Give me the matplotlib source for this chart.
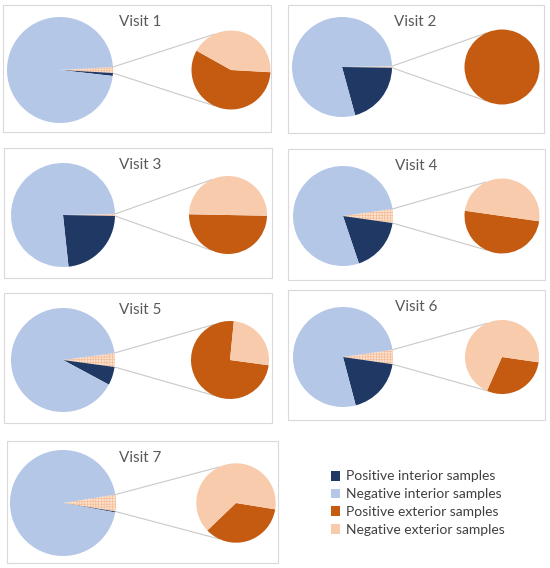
import numpy as np
import matplotlib
matplotlib.use("Agg")
import matplotlib.pyplot as plt
from matplotlib.patches import Rectangle, Patch

plt.rcParams["font.family"] = ["Lato", "DejaVu Sans"]
plt.rcParams["hatch.linewidth"] = 0.5
plt.rcParams["hatch.color"] = "#F5BC95"

# ---- data (percent of all samples per visit) ----
visits = ["Visit 1", "Visit 2", "Visit 3", "Visit 4", "Visit 5", "Visit 6", "Visit 7"]
pos_interior = [0.9, 20.5, 23.0, 17.6, 5.7, 18.6, 0.3]
neg_interior = [97.3, 79.0, 76.4, 77.9, 90.0, 76.8, 94.6]
pos_exterior = [1.03, 0.5, 0.3, 2.25, 3.2, 1.35, 1.8]
neg_exterior = [0.77, 0.0, 0.3, 2.25, 1.1, 3.25, 3.3]

legend_labels = ["Positive interior samples", "Negative interior samples",
                 "Positive exterior samples", "Negative exterior samples"]

C_POS_INT = "#1F3864"
C_NEG_INT = "#B4C7E7"
C_POS_EXT = "#C55A11"
C_NEG_EXT = "#F8CBAD"

W, H = 550, 568

# panel layout in pixels (top-left origin):
# box (x0, y0, x1, y1), main centre, main radius, secondary centre x, secondary radius, title x
LAYOUT = [
    ((3, 5, 271, 132), (60, 70), 53, 231, 39.5, 140),
    ((288, 5, 544, 133), (342, 67), 50, 502, 37.5, 415),
    ((4, 148, 272, 278), (63, 215), 52, 228, 39, 140),
    ((288, 149, 545, 280), (343, 216), 50, 502, 37.5, 416),
    ((4, 293, 272, 423), (63, 360), 52, 230, 39, 140),
    ((288, 290, 545, 420), (343, 357), 50, 502, 37, 416),
    ((7, 441, 278, 563), (63, 503), 53, 236, 39.7, 140),
]

fig = plt.figure(figsize=(W / 100, H / 100), dpi=100)
ax = fig.add_axes([0, 0, 1, 1])


def fy(y):
    return H - y


for i, name in enumerate(visits):
    (x0, y0, x1, y1), (mcx, mcy), rm, scx, rs, tx = LAYOUT[i]
    ax.add_patch(Rectangle((x0, fy(y1)), x1 - x0, y1 - y0, fill=False,
                           edgecolor="#D9D9D9", linewidth=0.8))

    other = pos_exterior[i] + neg_exterior[i]
    total = other + pos_interior[i] + neg_interior[i]
    half = 360.0 * other / total / 2

    # main pie: combined exterior wedge centred at 3 o'clock, then clockwise
    wedges, _ = ax.pie([other, pos_interior[i], neg_interior[i]],
                       colors=["#FBE3D2", C_POS_INT, C_NEG_INT],
                       startangle=half, counterclock=False,
                       center=(mcx, fy(mcy)), radius=rm,
                       wedgeprops=dict(linewidth=0))
    wedges[0].set_hatch("++++++")
    wedges[0].set_edgecolor("#F5BC95")

    # secondary pie: exterior breakdown (skip empty slices so a lone
    # slice renders as a full disc)
    sec = [(v, c) for v, c in zip([pos_exterior[i], neg_exterior[i]],
                                  [C_POS_EXT, C_NEG_EXT]) if v > 0]
    start = -half if len(sec) > 1 else 0
    ax.pie([v for v, _ in sec], colors=[c for _, c in sec],
           startangle=start, counterclock=False,
           center=(scx, fy(mcy)), radius=rs,
           wedgeprops=dict(linewidth=0))

    # connector lines
    for sgn in (1, -1):
        a = np.deg2rad(sgn * half)
        px, py = mcx + rm * np.cos(a), fy(mcy) + rm * np.sin(a)
        b = np.deg2rad(180 - sgn * 65)
        qx, qy = scx + rs * np.cos(b), fy(mcy) + rs * np.sin(b)
        ax.plot([px, qx], [py, qy], color="#C9C9C9", linewidth=0.8, zorder=0.5)

    ax.text(tx, fy(y0 + 17), name, ha="center", va="center",
            fontsize=11, color="#595959")

ax.set_xlim(0, W)
ax.set_ylim(0, H)
ax.set_aspect("equal")
ax.axis("off")

handles = [Patch(facecolor=c, edgecolor="none")
           for c in (C_POS_INT, C_NEG_INT, C_POS_EXT, C_NEG_EXT)]
fig.legend(handles, legend_labels, loc="upper left",
           bbox_to_anchor=(318 / W, 1 - 458 / H), frameon=False,
           fontsize=10, handlelength=0.7, handleheight=0.7,
           handletextpad=0.4, labelspacing=0.42, labelcolor="#404040")

fig.savefig("out.png", dpi=100)
